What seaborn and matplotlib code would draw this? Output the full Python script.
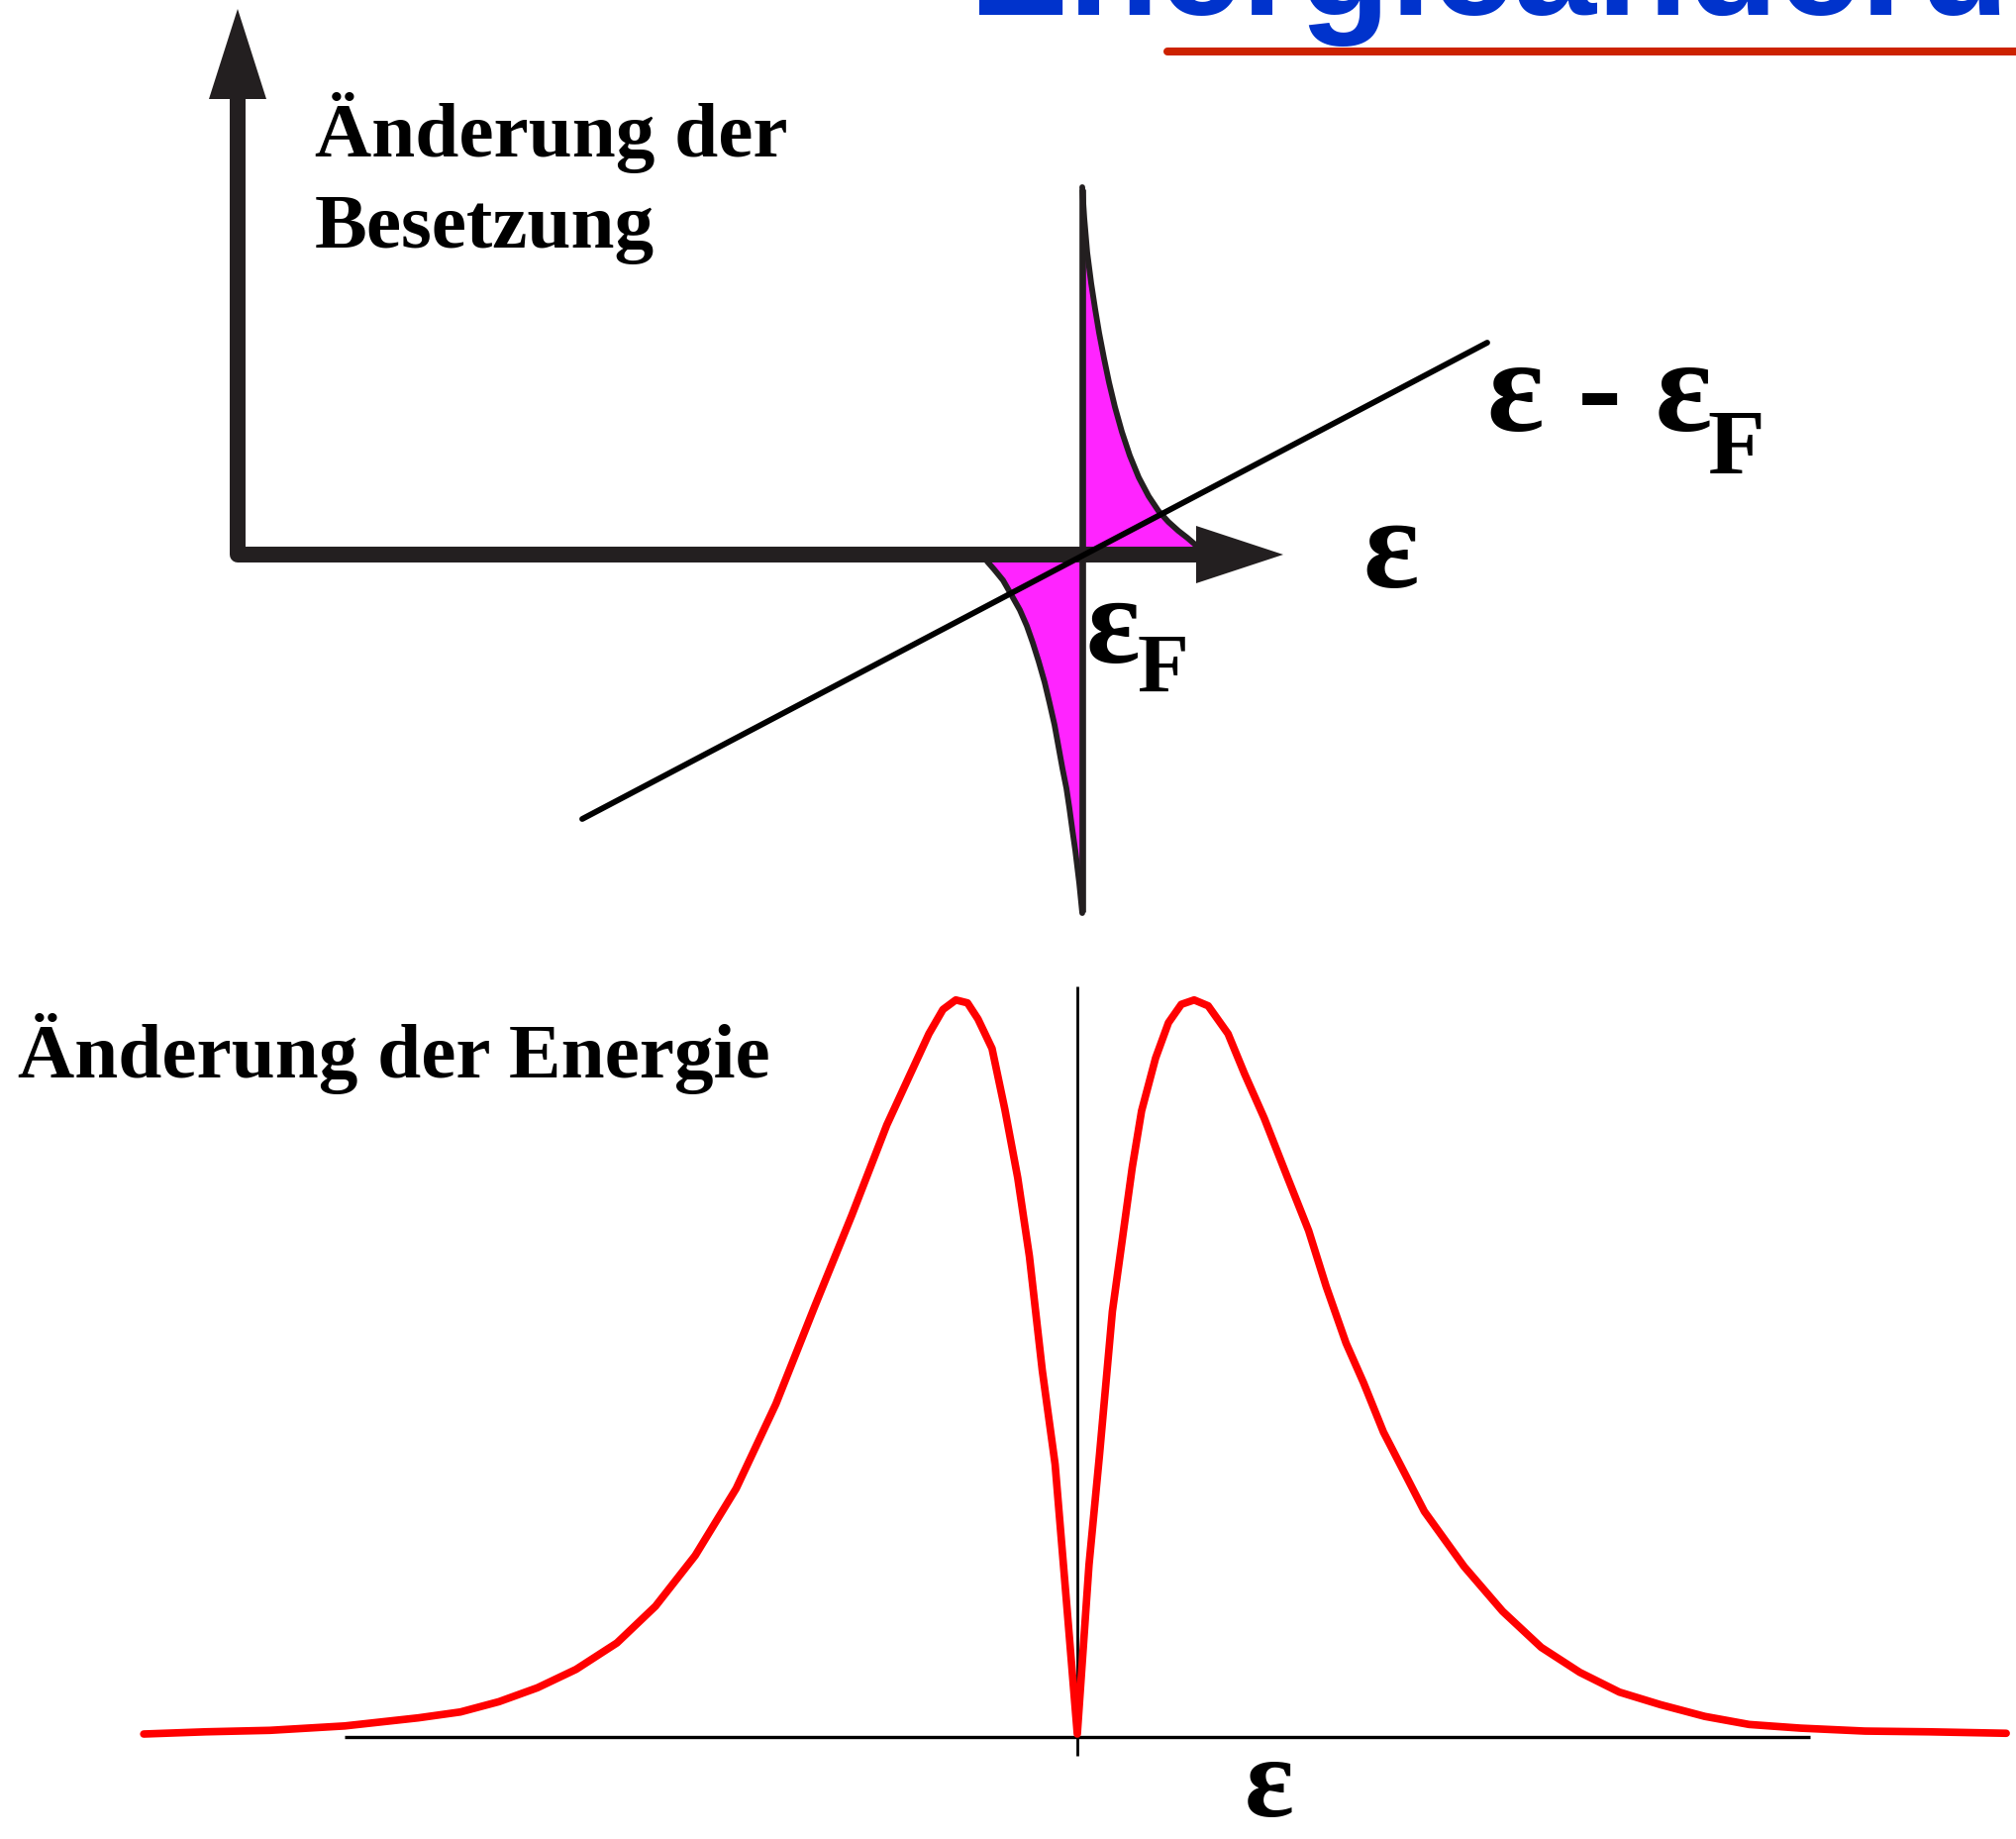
import matplotlib
matplotlib.use("Agg")
import matplotlib.pyplot as plt
from matplotlib.lines import Line2D
import seaborn as sns
import pandas as pd

sns.set_style("white")
plt.rcParams['font.family'] = ['Liberation Serif', 'DejaVu Serif']

# change of occupation near eF (eps - eF, delta n)
up_eps = [0.00, 0.02, 0.05, 0.09, 0.13, 0.17, 0.22, 0.27, 0.33, 0.40, 0.48,
          0.57, 0.67, 0.77, 0.87, 0.97, 1.06, 1.13, 1.18]
up_dn = [3.71, 3.40, 3.05, 2.74, 2.48, 2.24, 1.98, 1.74, 1.49, 1.24, 1.00,
         0.78, 0.59, 0.44, 0.33, 0.24, 0.17, 0.11, 0.06]
low_eps = [-0.99, -0.96, -0.89, -0.80, -0.72, -0.63, -0.56, -0.50, -0.44, -0.38,
           -0.33, -0.28, -0.24, -0.20, -0.16, -0.13, -0.10, -0.07, -0.03, 0.00]
low_dn = [0.00, -0.07, -0.15, -0.26, -0.40, -0.56, -0.72, -0.89, -1.08, -1.29,
          -1.50, -1.72, -1.94, -2.16, -2.36, -2.56, -2.78, -2.99, -3.32, -3.62]

# change of energy vs eps
eps = [-7.99, -7.46, -6.91, -6.27, -5.64, -5.28, -4.95, -4.62, -4.29, -3.94,
       -3.61, -3.27, -2.92, -2.58, -2.25, -1.93, -1.63, -1.43, -1.27, -1.15,
       -1.04, -0.94, -0.85, -0.73, -0.62, -0.51, -0.41,
       -0.30, -0.19, -0.09, 0.00,
       0.10, 0.19, 0.30, 0.47, 0.55, 0.67, 0.78, 0.89, 1.00, 1.12,
       1.29, 1.43, 1.60, 1.80, 1.98, 2.13, 2.30, 2.45, 2.62, 2.97,
       3.31, 3.64, 3.97, 4.30, 4.64, 4.99, 5.37, 5.75, 6.19, 6.74, 7.29, 7.95]
dE = [0.000, 0.003, 0.005, 0.011, 0.022, 0.030, 0.044, 0.063, 0.088, 0.124,
      0.174, 0.243, 0.334, 0.449, 0.581, 0.706, 0.829, 0.898, 0.953, 0.986,
      0.999, 0.995, 0.973, 0.933, 0.850, 0.757, 0.650,
      0.495, 0.367, 0.175, 0.000,
      0.230, 0.380, 0.575, 0.771, 0.848, 0.920, 0.968, 0.993, 0.999, 0.991,
      0.953, 0.899, 0.838, 0.757, 0.685, 0.609, 0.532, 0.478, 0.411, 0.303,
      0.228, 0.167, 0.118, 0.084, 0.057, 0.040, 0.024, 0.013, 0.008, 0.004, 0.003, 0.001]

W, H = 2036, 1858
dark = '#231f20'
magenta = '#ff24ff'

fig = plt.figure(figsize=(W / 100, H / 100), dpi=100)


def fx(px):
    return px / W


def fy(py):
    return 1 - py / H


# ---- top diagram ----
ax_top = fig.add_axes([0, fy(960), 1, 960 / H])
ax_top.set_xlim(-10.93, 9.43)
ax_top.set_ylim(-3.99, 5.61)
ax_top.axis('off')

ax_top.fill_betweenx(up_dn, 0, up_eps, color=magenta, lw=0, zorder=1)
ax_top.fill_betweenx(low_dn, 0, low_eps, color=magenta, lw=0, zorder=1)
sns.lineplot(x=up_eps, y=up_dn, sort=False, estimator=None, color=dark, lw=4.2, ax=ax_top, zorder=2)
sns.lineplot(x=low_eps, y=low_dn, sort=False, estimator=None, color=dark, lw=4.2, ax=ax_top, zorder=2)
ax_top.vlines(0, -3.61, 3.69, color=dark, lw=4.8, zorder=2)

# axes with arrow heads
ax_top.plot([-8.53, -8.53, 1.20], [4.65, 0, 0], color=dark, lw=11.5,
            solid_joinstyle='round', solid_capstyle='butt', zorder=3)
ax_top.arrow(-8.53, 4.55, 0, 0.96, width=0, head_width=0.58, head_length=0.91,
             length_includes_head=True, color=dark, lw=0, zorder=3)
ax_top.arrow(1.10, 0, 0.93, 0, width=0, head_width=0.58, head_length=0.88,
             length_includes_head=True, color=dark, lw=0, zorder=3)
ax_top.plot([-5.05, 4.09], [-2.67, 2.14], color='black', lw=4.2, zorder=4)

# ---- bottom diagram ----
ax_bot = fig.add_axes([0, 0, 1, 898 / H])
ax_bot.set_xlim(-1088 / 118, (W - 1088) / 118)
ax_bot.set_ylim(-106 / 742, 792 / 742)
ax_bot.axis('off')

ax_bot.hlines(-0.004, -6.27, 6.27, color='black', lw=2.4, zorder=1)
ax_bot.vlines(0, -0.03, 1.017, color='black', lw=2.0, zorder=1)
curve = pd.DataFrame({'eps': eps, 'dE': dE})
sns.lineplot(data=curve, x='eps', y='dE', sort=False, estimator=None,
             color='#ff0000', lw=5.5, ax=ax_bot, zorder=2)

# ---- texts ----
bold = dict(fontweight='bold', va='baseline', color='black')
fig.text(fx(318), fy(158), "Änderung der", fontsize=57, **bold)
fig.text(fx(318), fy(250), "Besetzung", fontsize=57, **bold)
fig.text(fx(18), fy(1088), "Änderung der Energie", fontsize=57, **bold)

fig.text(fx(1502), fy(435), "ε - ε", fontsize=97, **bold)
fig.text(fx(1724), fy(478), "F", fontsize=68, **bold)
fig.text(fx(1376), fy(593), "ε", fontsize=95, **bold)
fig.text(fx(1097), fy(669), "ε", fontsize=92, **bold)
fig.text(fx(1149), fy(699), "F", fontsize=61, **bold)
fig.text(fx(1257), fy(1834), "ε", fontsize=84, **bold)

# title, cut off by the top edge as in the slide
fig.text(fx(979), fy(15), "Energieänderung", fontsize=108, fontweight='bold',
         family=['Liberation Sans', 'DejaVu Sans'], color='#0033cc', va='baseline')
fig.add_artist(Line2D([fx(1179), 1.0], [fy(53), fy(53)], lw=5.8, color='#cc2200'))

fig.savefig('out.png', dpi=100)
